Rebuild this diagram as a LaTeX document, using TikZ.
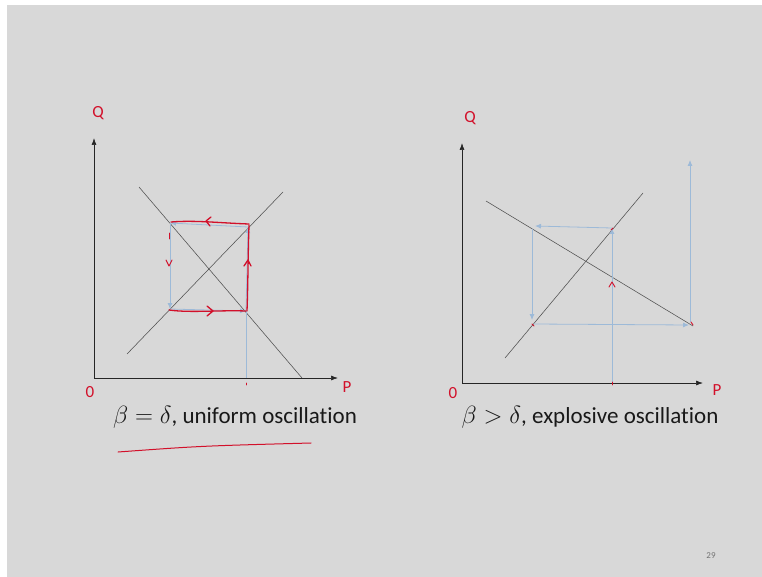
\documentclass[tikz,border=0pt]{standalone}
\usepackage{fontspec}
\setmainfont{Carlito}[RawFeature={-liga,-dlig,-clig,-calt}]
\newfontfamily\handfont{Carlito}
\usetikzlibrary{arrows.meta}
\definecolor{bg}{HTML}{D8D8D8}
\definecolor{ink}{HTML}{D2102A}
\definecolor{blu}{HTML}{9DBAD8}
\definecolor{ln}{HTML}{505050}
\begin{document}
\begin{tikzpicture}[x=1pt,y=-1pt,
  axis/.style={black!85, line width=0.7pt, -{Latex[length=7pt,width=5pt]}},
  curve/.style={ln, line width=0.55pt},
  cob/.style={blu, line width=0.8pt, -{Latex[length=6pt,width=5pt]}, draw},
  plain/.style={blu, line width=0.8pt},
  redline/.style={ink, line width=1.3pt, line cap=round, line join=round},
  hand/.style={ink, font=\fontsize{17}{17}\selectfont\handfont},
  caption/.style={font=\fontsize{23}{26}\selectfont, anchor=base, text=black!90}]
\useasboundingbox (0,0) rectangle (762,577);
\fill[white] (0,0) rectangle (762,577);
\fill[bg] (7,5) rectangle (762,577);

% ---------- left diagram ----------
\coordinate (LO) at (94,378);
\coordinate (LQ) at (94,138);
\coordinate (LP) at (338,378);
\draw[axis] (LO) -- (LQ);
\draw[axis] (LO) -- (LP);
\node[hand] (lq) at (98,113) {Q};
\node[hand] (lo) at (90,392) {0};
\node[hand] (lp) at (347,387) {P};

\coordinate (LD1) at (139,187);
\coordinate (LD2) at (302,378);
\coordinate (LS1) at (127,354);
\coordinate (LS2) at (283,192);
\draw[curve] (LD1) -- (LD2);
\draw[curve] (LS1) -- (LS2);

\coordinate (TL) at (170,223);
\coordinate (TR) at (248,227);
\coordinate (BL) at (170,309);
\coordinate (BR) at (246,311);
\coordinate (BA) at (246,378);
\draw[plain] (BR) -- (BA);
\draw[cob] (TL) -- (BL);
\draw[cob] (BL) -- (BR);
\draw[cob] (BR) -- (TR);
\draw[cob] (TR) -- (TL);

% red overlay
\draw[redline] (171,222) .. controls (195,220) and (220,223) .. (249,224);
\draw[redline] (211,217) -- (206,221) -- (210,226);
\draw[redline] (249,225) .. controls (248,255) and (248,285) .. (247,311);
\draw[redline] (244,266) -- (248,260) -- (251,266);
\draw[redline] (169,310) .. controls (190,313) and (220,310) .. (246,311);
\draw[redline] (207,306) -- (213,311) -- (207,316);
\draw[redline, line width=0.9pt] (169,233) -- (169,239);
\draw[redline, line width=0.9pt] (166,260) -- (169,266) -- (172,260);
\draw[redline, line width=0.9pt] (246,383) -- (246,385);

\node[caption] (lcap) at (235,423) {$\beta=\delta$, uniform oscillation};
\draw[redline, line width=1pt] (118,452) .. controls (200,446) .. (311,443);

% ---------- right diagram ----------
\coordinate (RO) at (462,383);
\coordinate (RQ) at (462,143);
\coordinate (RP) at (703,383);
\draw[axis] (RO) -- (RQ);
\draw[axis] (RO) -- (RP);
\node[hand] (rq) at (470,118) {Q};
\node[hand] (ro) at (453,393) {0};
\node[hand] (rp) at (717,390) {P};

\coordinate (RD1) at (486,201);
\coordinate (RD2) at (693,326);
\coordinate (RS1) at (505,358);
\coordinate (RS2) at (643,193);
\draw[curve] (RD1) -- (RD2);
\draw[curve] (RS1) -- (RS2);

\coordinate (C0) at (612,383);
\coordinate (C1) at (612,228);
\coordinate (C2) at (535,226);
\coordinate (C3) at (532,229);
\coordinate (C4) at (532,320);
\coordinate (C5) at (534,324);
\coordinate (C6) at (689,325);
\coordinate (C7) at (690,322);
\coordinate (C8) at (690,160);
\draw[cob] (C0) -- (C1);
\draw[cob] (C1) -- (C2);
\draw[cob] (C3) -- (C4);
\draw[cob] (C5) -- (C6);
\draw[cob] (C7) -- (C8);

\draw[redline, line width=0.9pt] (612,382) -- (612,385);
\draw[redline, line width=0.9pt] (609,287) -- (612,282) -- (615,287);
\draw[redline, line width=0.9pt] (611,230) -- (613,228);
\draw[redline, line width=0.9pt] (532,324) -- (534,326);
\draw[redline, line width=0.9pt] (691,322) -- (693,325);

\node[caption] (rcap) at (590,423) {$\beta>\delta$, explosive oscillation};

\node[text=black!55, font=\fontsize{9}{9}\selectfont] (pg) at (711,556) {29};
\end{tikzpicture}
\end{document}
